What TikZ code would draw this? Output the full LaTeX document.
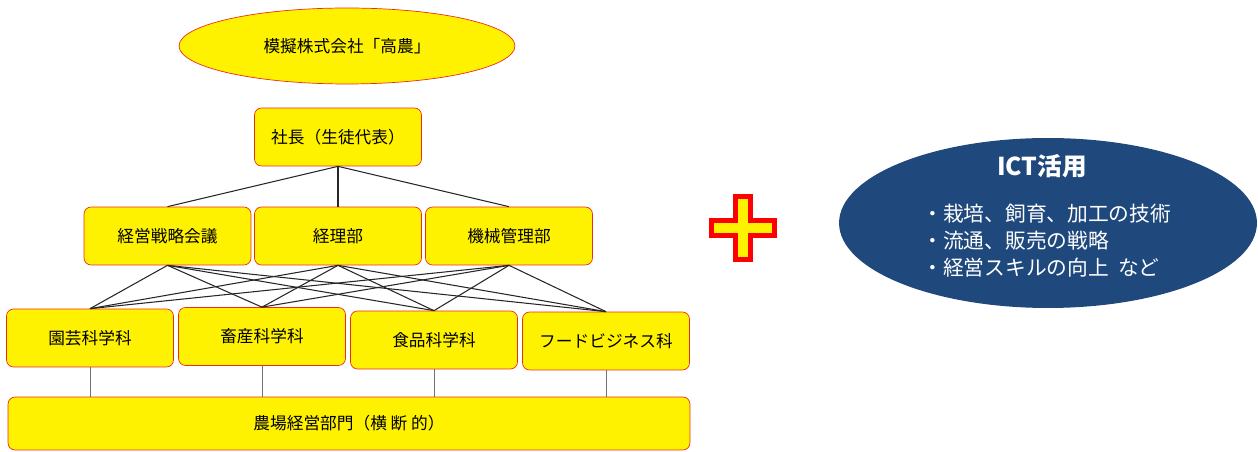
\documentclass[tikz,border=0pt]{standalone}
\usepackage{fontspec}
\setmainfont{Noto Sans CJK JP}
\usetikzlibrary{shapes.geometric,positioning}
\definecolor{ictblue}{RGB}{31,73,125}
\definecolor{unitred}{RGB}{235,45,30}

\begin{document}
\begin{tikzpicture}[x=0.02cm,y=-0.02cm,
    unit/.style={draw=unitred,fill=yellow,rounded corners=4pt,inner sep=0pt,
      minimum width=3.34cm,minimum height=1.16cm,font=\fontsize{9.5}{11}\selectfont},
    link/.style={draw=black!85,line width=0.6pt},
    drop/.style={draw=black!55,line width=0.5pt}]
  \useasboundingbox (0,0) rectangle (1258,452);
  % organisation
  \node[ellipse,draw=unitred,fill=yellow,minimum width=6.72cm,minimum height=1.52cm,
    font=\fontsize{9.5}{11}\selectfont] (company) at (347,46) {模擬株式会社「高農」};
  \node[unit] (pres) at (338,137) {社長（生徒代表）};
  \node[unit] (plan) at (167.5,236) {経営戦略会議};
  \node[unit] (acct) at (338,236) {経理部};
  \node[unit] (mach) at (509,236) {機械管理部};
  \node[unit] (hort) at (90,338) {園芸科学科};
  \node[unit] (live) at (262,336.5) {畜産科学科};
  \node[unit] (food) at (434,340) {食品科学科};
  \node[unit] (biz) at (606,341) {フードビジネス科};
  \node[unit,minimum width=13.64cm,minimum height=1.06cm] (farm) at (349,423.5) {農場経営部門（横 断 的）};
  \foreach \d in {plan,acct,mach}
    \draw[link] (pres.south) -- (\d.north);
  \foreach \d in {plan,acct,mach}
    \foreach \s in {hort,live,food,biz}
      \draw[link] (\d.south) -- (\s.north);
  \foreach \s in {hort,live,food,biz}
    \draw[drop] (\s.south) -- (\s.south |- farm.north);
  % plus sign
  \draw[red,line width=2.8pt,fill=yellow,line join=miter]
    (735.5,196.5) -- (750.5,196.5) -- (750.5,220.5) -- (774.5,220.5) -- (774.5,235.5)
    -- (750.5,235.5) -- (750.5,259.5) -- (735.5,259.5) -- (735.5,235.5) -- (711.5,235.5)
    -- (711.5,220.5) -- (735.5,220.5) -- cycle;
  % ICT
  \node[ellipse,fill=ictblue,minimum width=8.36cm,minimum height=3.4cm] (ict) at (1048,223) {};
  \node[text=white,font=\fontsize{14}{16}\selectfont\bfseries] (ictTitle) at (1042,166) {ICT活用};
  \node[text=white,anchor=west,align=left,inner sep=0pt,
    font=\fontsize{11.8}{15.3}\selectfont] (ictList) at (922,241)
    {・栽培、飼育、加工の技術\\・流通、販売の戦略\\・経営スキルの向上\ \ など};
\end{tikzpicture}
\end{document}
